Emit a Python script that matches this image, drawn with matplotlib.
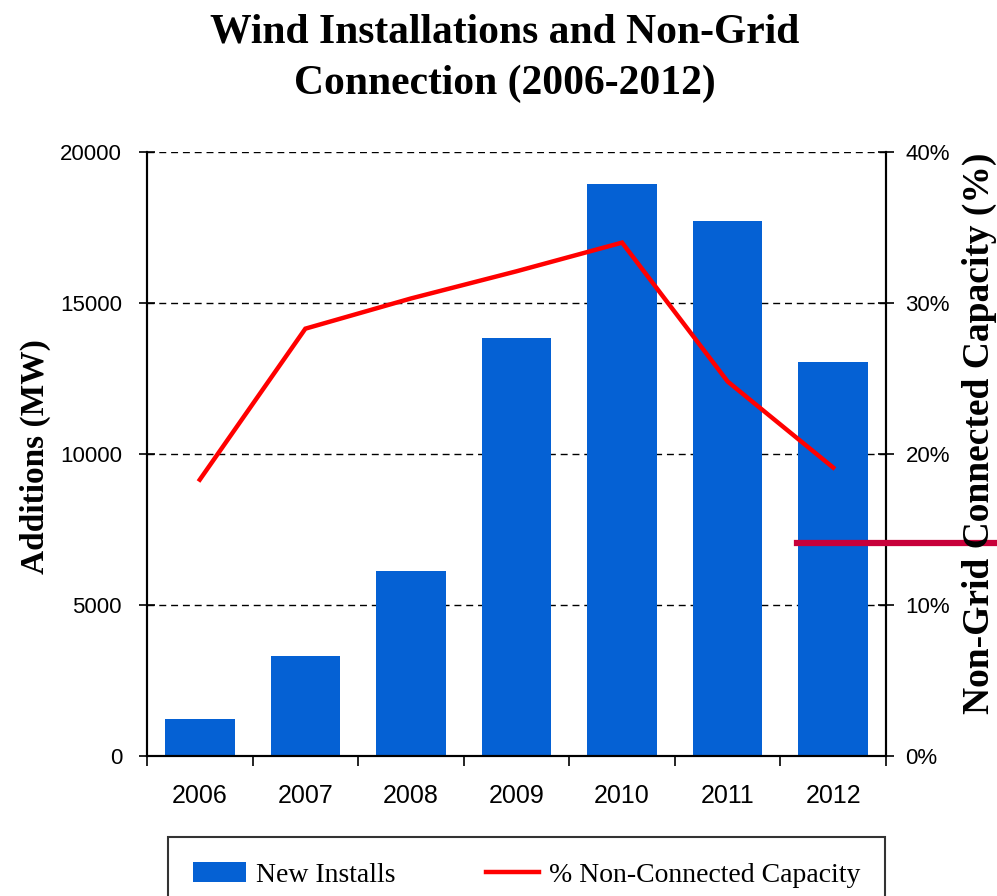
import matplotlib
matplotlib.use("Agg")
import matplotlib.pyplot as plt
from matplotlib.lines import Line2D
from matplotlib.ticker import FuncFormatter

years = ["2006", "2007", "2008", "2009", "2010", "2011", "2012"]
new_installs = [1230, 3310, 6130, 13840, 18930, 17710, 13050]
non_connected_pct = [18.3, 28.3, 30.3, 32.1, 34.0, 24.8, 19.1]

bar_color = "#0561D4"
line_color = "#FF0000"

fig = plt.figure(figsize=(9.97, 8.96), dpi=100)
ax = fig.add_axes([147/997, 1-756/896, (886-147)/997, (756-152)/896])
ax2 = ax.twinx()

x = [i + 0.5 for i in range(len(years))]
ax.bar(x, new_installs, width=0.66, color=bar_color, zorder=2, label="New Installs")
ax2.plot(x, non_connected_pct, color=line_color, lw=3.2, zorder=3,
         label="% Non-Connected Capacity", solid_joinstyle="miter")

ax.set_xlim(0, len(years))
ax.set_ylim(0, 20000)
ax2.set_ylim(0, 40)
ax.set_yticks([0, 5000, 10000, 15000, 20000])
ax2.set_yticks([0, 10, 20, 30, 40])
ax2.yaxis.set_major_formatter(FuncFormatter(lambda v, p: f"{v:.0f}%"))

for yv in [5000, 10000, 15000, 20000]:
    ax.axhline(yv, color="black", lw=1.0, ls=(0, (5, 3.5)), zorder=1)

ax.set_xticks(range(len(years) + 1))
ax.set_xticklabels([])
ax.set_xticks(x, minor=True)
ax.set_xticklabels(years, minor=True)
ax.tick_params(axis="x", which="major", direction="out", length=7, width=1.2)
ax.tick_params(axis="x", which="minor", length=0, pad=20, labelsize=18)
for lab in ax.get_xticklabels(minor=True):
    lab.set_fontfamily("Liberation Sans")

ax.tick_params(axis="y", direction="inout", length=12, width=1.2, labelsize=16, pad=12)
ax2.tick_params(axis="y", direction="inout", length=12, width=1.2, labelsize=16, pad=8)
for lab in ax.get_yticklabels() + ax2.get_yticklabels():
    lab.set_fontfamily("Liberation Sans")

for a in (ax, ax2):
    a.spines["top"].set_visible(False)
    a.spines["left"].set_linewidth(1.5)
    a.spines["right"].set_linewidth(1.5)
    a.spines["bottom"].set_linewidth(1.5)

fig.text(505/997, 1-58/896, "Wind Installations and Non-Grid\nConnection (2006-2012)",
         ha="center", va="center", fontsize=30, fontweight="bold",
         family="Liberation Serif", linespacing=1.45)

fig.text(35/997, 1-457/896, "Additions (MW)", rotation=90, ha="center", va="center",
         fontsize=24, fontweight="bold", family="Liberation Serif")
fig.text(979/997, 1-433/896, "Non-Grid Connected Capacity (%)", rotation=90,
         ha="center", va="center", fontsize=27, fontweight="bold",
         family="Liberation Serif")

h1, l1 = ax.get_legend_handles_labels()
h2, l2 = ax2.get_legend_handles_labels()
leg = fig.legend(h1 + h2, l1 + l2, loc="upper left",
                 bbox_to_anchor=(168/997, 1-838/896, (885-168)/997, 0.001),
                 mode="expand", ncol=2, frameon=True, fancybox=False,
                 edgecolor="black", prop={"family": "Liberation Serif", "size": 20},
                 borderpad=0.9, handlelength=1.9, handletextpad=0.35,
                 columnspacing=2.0, borderaxespad=0)
leg.get_frame().set_linewidth(1.5)

fig.add_artist(Line2D([797/997, 1.0], [1-543/896, 1-543/896], color="#C8003A",
                      lw=4.5, transform=fig.transFigure))

fig.savefig("out.png", dpi=100)
